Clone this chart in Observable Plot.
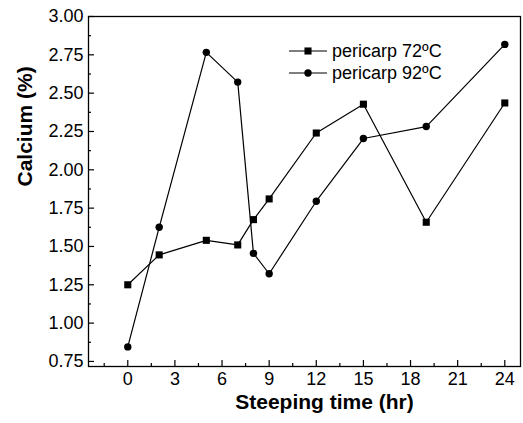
<!DOCTYPE html>
<html>
<head>
<meta charset="utf-8">
<script src="https://cdn.jsdelivr.net/npm/d3@7"></script>
<script src="https://cdn.jsdelivr.net/npm/@observablehq/plot@0.6"></script>
<style>
  html, body { margin: 0; padding: 0; background: #fff; }
  #wrap { position: relative; width: 523px; height: 423px; font-family: "Liberation Sans", Arial, sans-serif; }
  #legend { position: absolute; left: 0; top: 0; pointer-events: none; }
</style>
</head>
<body>
<div id="wrap"></div>
<script>
// ---- data ----
const hours72 = [0, 2, 5, 7, 8, 9, 12, 15, 19, 24];
const calcium72 = [1.25, 1.445, 1.54, 1.51, 1.675, 1.81, 2.24, 2.428, 1.658, 2.436];
const hours92 = [0, 2, 5, 7, 8, 9, 12, 15, 19, 24];
const calcium92 = [0.845, 1.625, 2.766, 2.572, 1.455, 1.322, 1.795, 2.204, 2.282, 2.818];
const seriesNames = ["pericarp 72ºC", "pericarp 92ºC"];
const seriesSymbols = ["square", "circle"];
const xTicks = [0, 3, 6, 9, 12, 15, 18, 21, 24];
const xMinorTicks = [-1.5, 1.5, 4.5, 7.5, 10.5, 13.5, 16.5, 19.5, 22.5];
const yTicks = [0.75, 1.00, 1.25, 1.50, 1.75, 2.00, 2.25, 2.50, 2.75, 3.00];
const yMinorTicks = [0.875, 1.125, 1.375, 1.625, 1.875, 2.125, 2.375, 2.625, 2.875];
const xLabel = "Steeping time (hr)";
const yLabel = "Calcium (%)";

const d72 = hours72.map((h, i) => ({x: h, y: calcium72[i]}));
const d92 = hours92.map((h, i) => ({x: h, y: calcium92[i]}));

const W = 523, H = 423;
const mL = 88, mR = 3, mT = 16, mB = 57;
const innerW = W - mL - mR, innerH = H - mT - mB;
const font = "'Liberation Sans', Arial, sans-serif";

const chart = Plot.plot({
  width: W, height: H,
  marginLeft: mL, marginRight: mR, marginTop: mT, marginBottom: mB,
  style: {fontFamily: font, background: "#fff", color: "#000"},
  x: {domain: [-2.5, 25]},
  y: {domain: [0.717, 3.0]},
  marks: [
    Plot.frame({stroke: "#000", strokeWidth: 1.3}),
    Plot.tickX(xTicks, {x: d => d, insetTop: innerH - 6, stroke: "#000", strokeWidth: 1.2}),
    Plot.tickX(xMinorTicks, {x: d => d, insetTop: innerH - 3, stroke: "#000", strokeWidth: 1.2}),
    Plot.tickY(yTicks, {y: d => d, insetRight: innerW - 6, stroke: "#000", strokeWidth: 1.2}),
    Plot.tickY(yMinorTicks, {y: d => d, insetRight: innerW - 3, stroke: "#000", strokeWidth: 1.2}),
    Plot.axisX(xTicks, {tickSize: 0, tickPadding: 6, fontSize: 18, label: null, tickFormat: d => String(d)}),
    Plot.axisY(yTicks, {tickSize: 0, tickPadding: 5, fontSize: 18, label: null, tickFormat: d => d.toFixed(2)}),
    Plot.text([xLabel], {text: d => d, frameAnchor: "bottom", dx: 20, dy: 42, fontSize: 21, fontWeight: "bold"}),
    Plot.text([yLabel], {text: d => d, frameAnchor: "left", dx: -63, dy: -5, rotate: -90, fontSize: 21, fontWeight: "bold"}),
    Plot.line(d72, {x: "x", y: "y", stroke: "#000", strokeWidth: 1.2}),
    Plot.line(d92, {x: "x", y: "y", stroke: "#000", strokeWidth: 1.2}),
    Plot.dot(d72, {x: "x", y: "y", symbol: "square", r: 4, fill: "#000", stroke: "none"}),
    Plot.dot(d92, {x: "x", y: "y", symbol: "circle", r: 3.7, fill: "#000", stroke: "none"})
  ]
});
document.getElementById("wrap").appendChild(chart);

// ---- legend (overlay inside the frame) ----
const leg = d3.select("#wrap").append("svg")
  .attr("id", "legend").attr("width", W).attr("height", H);
const legX0 = 289, legX1 = 327, legRow0 = 51, legRowGap = 22;
seriesNames.forEach((name, i) => {
  const y = legRow0 + i * legRowGap;
  const g = leg.append("g");
  g.append("line").attr("x1", legX0).attr("x2", legX1).attr("y1", y).attr("y2", y)
    .attr("stroke", "#000").attr("stroke-width", 1.2);
  const sym = seriesSymbols[i] === "square" ? d3.symbolSquare : d3.symbolCircle;
  const r = seriesSymbols[i] === "square" ? 4 : 3.7;
  g.append("path").attr("d", d3.symbol(sym, Math.PI * r * r)())
    .attr("transform", `translate(${(legX0 + legX1) / 2},${y})`).attr("fill", "#000");
  g.append("text").attr("x", legX1 + 5).attr("y", y).attr("dy", "0.35em")
    .attr("font-family", font).attr("font-size", 18).attr("fill", "#000").text(name);
});
</script>
</body>
</html>
